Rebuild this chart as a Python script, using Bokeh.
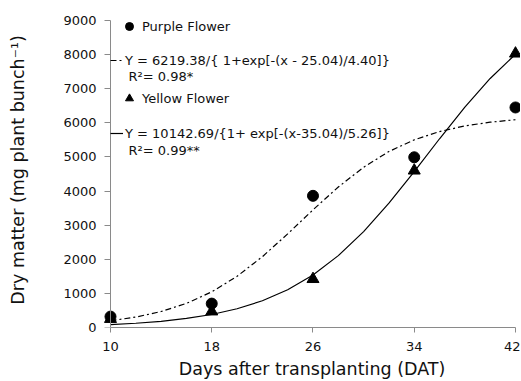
from bokeh.plotting import figure
from bokeh.models import Range1d, FixedTicker, Legend, LegendItem, Label, LinearAxis
from bokeh.embed import file_html
from bokeh.resources import INLINE

# ---- data ----
days = [10, 18, 26, 34, 42]
purple_obs = [320, 700, 3860, 4990, 6450]
yellow_obs = [250, 470, 1420, 4600, 8030]

# fitted curves
curve_days = [10, 12, 14, 16, 18, 20, 22, 24, 26, 28, 30, 32, 34, 36, 38, 40, 42]
purple_fit = [197, 305, 468, 707, 1045, 1501, 2076, 2744, 3448, 4118, 4698,
              5159, 5502, 5744, 5909, 6019, 6090]
yellow_fit = [86, 125, 182, 265, 382, 550, 784, 1108, 1542, 2107, 2812,
              3645, 4572, 5533, 6462, 7300, 8010]

x_ticks = [10, 18, 26, 34, 42]
y_ticks = [0, 1000, 2000, 3000, 4000, 5000, 6000, 7000, 8000, 9000]

purple_label = "Purple Flower"
yellow_label = "Yellow Flower"
purple_eq = "Y = 6219.38/{ 1+exp[-(x - 25.04)/4.40]}"
yellow_eq = "Y = 10142.69/{1+ exp[-(x-35.04)/5.26]}"
purple_r2 = "R\u00b2= 0.98*"
yellow_r2 = "R\u00b2= 0.99**"

FONT = "DejaVu Sans"
TXT = "#111111"
AX = "#8a8a8a"

p = figure(frame_width=417, frame_height=315, output_backend="svg",
           toolbar_location=None,
           x_range=Range1d(9.447, 42.396), y_range=Range1d(0, 9234),
           min_border_left=103, min_border_right=0, min_border_top=12,
           min_border_bottom=0)
p.outline_line_color = None
p.grid.visible = False
p.background_fill_color = "white"
p.border_fill_color = "white"

# curves
l1 = p.line(curve_days, purple_fit, line_color="black", line_width=1.2,
            line_dash="6 3 2 3")
l2 = p.line(curve_days, yellow_fit, line_color="black", line_width=1.2)
# observations
m1 = p.scatter(days, purple_obs, marker="circle", size=11, color="black")
m2 = p.scatter(days, yellow_obs, marker="triangle", size=12, color="black")

# x axis
xa = p.xaxis[0]
xa.ticker = FixedTicker(ticks=x_ticks)
xa.bounds = (10, 42)
xa.axis_line_color = AX
xa.major_tick_line_color = AX
xa.minor_tick_line_color = None
xa.major_tick_in = 0
xa.major_tick_out = 5
xa.minor_tick_out = 0
xa.major_label_standoff = 9
xa.axis_label_standoff = 5
xa.axis_label = "Days after transplanting (DAT)"

# y axis: labels + title on the left
ya = p.yaxis[0]
ya.ticker = FixedTicker(ticks=y_ticks)
ya.axis_line_color = None
ya.major_tick_line_color = None
ya.minor_tick_line_color = None
ya.major_tick_in = 0
ya.major_tick_out = 0
ya.minor_tick_out = 0
ya.major_label_standoff = 7
ya.axis_label_standoff = 32
ya.axis_label = "Dry matter (mg plant bunch\u207b\u00b9)"

for ax in (xa, ya):
    ax.major_label_text_font = FONT
    ax.major_label_text_font_size = "13px"
    ax.major_label_text_color = TXT
    ax.axis_label_text_font = FONT
    ax.axis_label_text_font_size = "17.5px"
    ax.axis_label_text_font_style = "normal"
    ax.axis_label_text_color = TXT

# y axis line + ticks drawn at x = 10
yline = LinearAxis(ticker=FixedTicker(ticks=y_ticks), bounds=(0, 9000),
                   fixed_location=10, axis_line_color=AX,
                   major_tick_line_color=AX, minor_tick_line_color=None,
                   major_tick_in=6, major_tick_out=0, minor_tick_in=0,
                   minor_tick_out=0, major_label_standoff=0,
                   major_label_text_font_size="0px",
                   major_label_text_alpha=0)
p.add_layout(yline, "right")

# legends
leg1 = Legend(items=[LegendItem(label=purple_label, renderers=[m1]),
                     LegendItem(label=yellow_label, renderers=[m2])],
              location=(16, 219), glyph_width=20, glyph_height=20,
              label_height=20, spacing=52, label_standoff=3, padding=0,
              margin=0, border_line_color=None, background_fill_alpha=0,
              label_text_font=FONT, label_text_font_size="13px",
              label_text_color=TXT)
leg2 = Legend(items=[LegendItem(label=purple_eq, renderers=[l1]),
                     LegendItem(label=yellow_eq, renderers=[l2])],
              location=(7, 184), glyph_width=13, glyph_height=20,
              label_height=20, spacing=53, label_standoff=2, padding=0,
              margin=0, border_line_color=None, background_fill_alpha=0,
              label_text_font=FONT, label_text_font_size="13px",
              label_text_color=TXT)
p.add_layout(leg1)
p.add_layout(leg2)

for txt, yy in ((purple_r2, 251), (yellow_r2, 177)):
    p.add_layout(Label(x=25, y=yy, x_units="screen", y_units="screen",
                       text=txt, text_font=FONT, text_font_size="13px",
                       text_color=TXT, text_baseline="middle"))

open("out.html", "w").write(file_html(p, INLINE))
